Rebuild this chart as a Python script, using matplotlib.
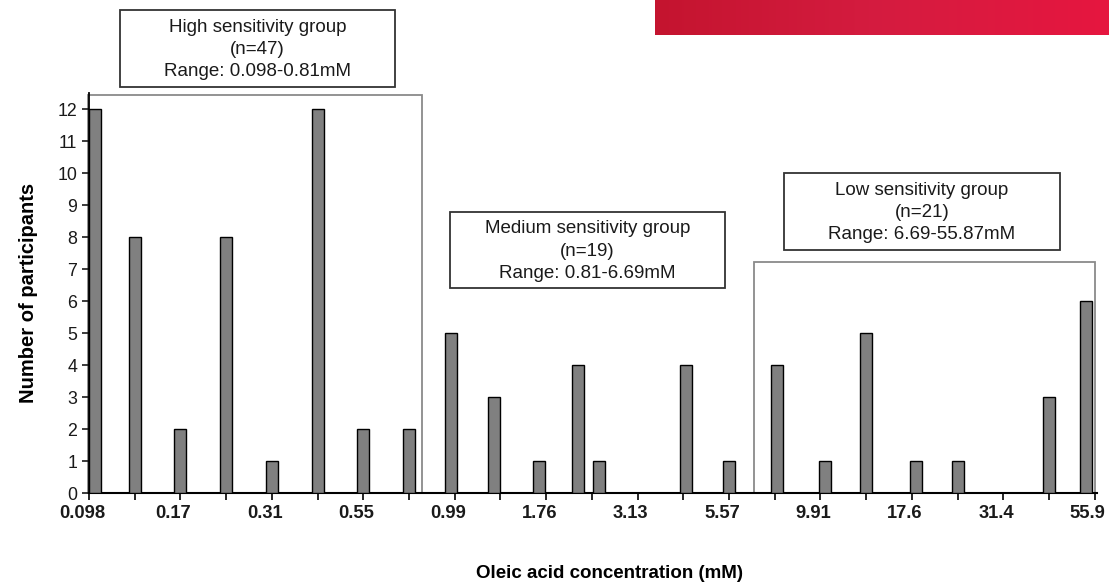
import matplotlib.pyplot as plt
import numpy as np
from matplotlib.patches import Rectangle
from matplotlib.colors import LinearSegmentedColormap
from matplotlib.transforms import ScaledTranslation

plt.rcParams['font.family'] = ['Liberation Sans', 'DejaVu Sans']

# concentration labels on every second tick (log-spaced bins)
conc_labels = ['0.098', '0.17', '0.31', '0.55', '0.99', '1.76',
               '3.13', '5.57', '9.91', '17.6', '31.4', '55.9']
# bar positions in tick units and participant counts
bar_pos = [0.13, 1, 2, 3, 4, 5, 6, 7,
           7.92, 8.86, 9.85, 10.7, 11.15, 13.05, 14.0,
           15.05, 16.1, 17.0, 18.1, 19.0, 21.0, 21.8]
counts = [12, 8, 2, 8, 1, 12, 2, 2,
          5, 3, 1, 4, 1, 4, 1,
          4, 1, 5, 1, 1, 3, 6]

group_names = ['High sensitivity group', 'Medium sensitivity group', 'Low sensitivity group']
group_n = [47, 19, 21]
group_ranges = ['0.098-0.81mM', '0.81-6.69mM', '6.69-55.87mM']

W, H = 1109, 583
fig = plt.figure(figsize=(W / 100, H / 100), dpi=100)

def fx(x):
    return x / W

def fy(y):
    return 1 - y / H

ax = fig.add_axes([fx(89), fy(493), (1097 - 89) / W, 400 / H])
ax.bar(bar_pos, counts, width=0.26, color='#808080', edgecolor='black', linewidth=1.0, zorder=3)

ax.set_xlim(0, 22.05)
ax.set_ylim(0, 12.5)
ax.set_yticks(range(0, 13))
ax.set_xticks(range(0, 23, 2))
ax.set_xticklabels(conc_labels, fontweight='bold', fontsize=13.2, color='#1a1a1a')
ax.set_xticks(range(1, 23, 2), minor=True)
ax.tick_params(axis='y', labelsize=12.8, length=5, width=1.2, direction='out', colors='#1a1a1a')
ax.tick_params(axis='x', which='both', length=5, width=1.2, direction='out', pad=4)
# labels sit a little left of their ticks in the original
shift = ScaledTranslation(-7 / 100, 0, fig.dpi_scale_trans)
for lab in ax.get_xticklabels():
    lab.set_transform(lab.get_transform() + shift)
for s in ['top', 'right']:
    ax.spines[s].set_visible(False)
ax.spines['left'].set_linewidth(1.3)
ax.spines['bottom'].set_linewidth(1.5)

# group regions drawn inside the plot
ax.add_patch(Rectangle((-0.02, 0), 7.3, 12.44, fill=False, edgecolor='#8a8a8a',
                       linewidth=1.3, clip_on=False, zorder=1))
ax.add_patch(Rectangle((14.54, 0), 22.0 - 14.54, 7.22, fill=False, edgecolor='#8a8a8a',
                       linewidth=1.3, clip_on=False, zorder=1))

# label boxes (pixel coords: left, top, right, bottom)
label_boxes = [(120, 10, 395, 87), (450, 212, 725, 288), (784, 173, 1060, 250)]
for (x0, y0, x1, y1), name, n, rng in zip(label_boxes, group_names, group_n, group_ranges):
    fig.patches.append(Rectangle((fx(x0), fy(y1)), (x1 - x0) / W, (y1 - y0) / H,
                                 transform=fig.transFigure, fill=False,
                                 edgecolor='#333333', linewidth=1.3))
    fig.text(fx((x0 + x1) / 2), fy((y0 + y1) / 2 + 1), f'{name}\n(n={n})\nRange: {rng}',
             ha='center', va='center', fontsize=13.5, linespacing=1.42, color='#1a1a1a')

ax.set_ylabel('Number of participants', fontsize=14.5, fontweight='bold', labelpad=14)
fig.text(fx(609), fy(573), 'Oleic acid concentration (mM)', ha='center', va='center',
         fontsize=13.5, fontweight='bold')

# red banner at the top right
bax = fig.add_axes([fx(655), fy(35), (W - 655) / W, 35 / H])
cmap = LinearSegmentedColormap.from_list('banner', ['#c4142f', '#d51c40', '#e6163f'])
bax.imshow(np.linspace(0, 1, 256)[None, :], aspect='auto', cmap=cmap)
bax.axis('off')

fig.savefig('out.png', dpi=100)
